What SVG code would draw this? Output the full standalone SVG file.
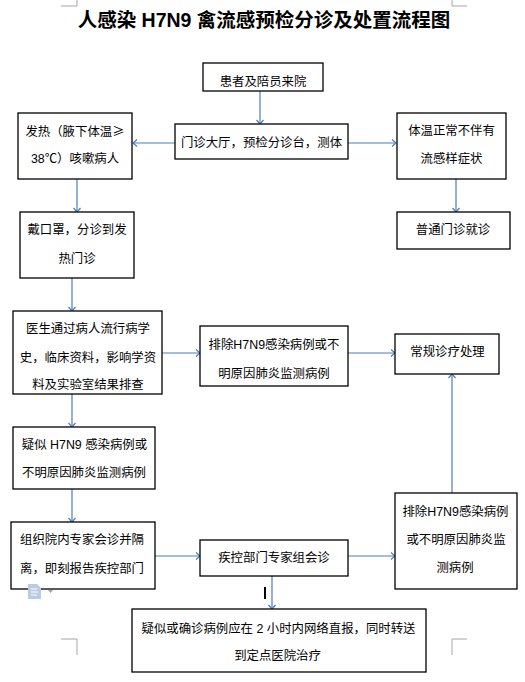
<svg xmlns="http://www.w3.org/2000/svg" width="525" height="682" viewBox="0 0 525 682">
<style>
.box{fill:#fff;stroke:#000;stroke-width:1.3}
.t{font-family:"Liberation Sans","Noto Sans CJK SC",sans-serif;font-size:12.4px;fill:#000;text-anchor:middle}
.cjk{font-family:"Noto Sans CJK SC",sans-serif}
.title{font-family:"Liberation Sans","Noto Sans CJK SC",sans-serif;font-size:19.5px;font-weight:bold;fill:#000;text-anchor:middle}
.c{fill:none;stroke:#4a7ebb;stroke-width:1.2;marker-end:url(#ah)}
.mark{fill:none;stroke:#a6a6a6;stroke-width:1}
</style>
<defs>
<marker id="ah" markerUnits="userSpaceOnUse" markerWidth="10" markerHeight="10" viewBox="0 0 10 10" refX="8" refY="5" orient="auto">
<path d="M4,1.5 L8,5 L4,8.5" fill="none" stroke="#4a7ebb" stroke-width="1.2"/>
</marker>
</defs>
<rect width="525" height="682" fill="#fff"/>
<g id="page-marks">
<path class="mark" d="M77,0 V6 H61 M452,0 V6 H467 M61,639 H77 V655 M467,639 H452 V655"/>
</g>
<text class="title" x="264" y="27">人感染 H7N9 禽流感预检分诊及处置流程图</text>
<g id="connectors">
<path class="c" d="M260,91 V124"/>
<path class="c" d="M175,143 H133"/>
<path class="c" d="M348,143 H396"/>
<path class="c" d="M77,179 V212"/>
<path class="c" d="M456,179 V212"/>
<path class="c" d="M72,278 V311"/>
<path class="c" d="M162,353 H200"/>
<path class="c" d="M348,353 H395"/>
<path class="c" d="M452,493 V374"/>
<path class="c" d="M72,394 V427"/>
<path class="c" d="M72,489 V522"/>
<path class="c" d="M155,556 H200"/>
<path class="c" d="M348,556 H395"/>
<path class="c" d="M272,576 V609"/>
</g>
<g id="n1"><rect class="box" x="203" y="63" width="120" height="28"/><text class="t" x="263" y="85.5">患者及陪员来院</text></g>
<g id="n2"><rect class="box" x="175" y="124" width="173" height="35"/><text class="t" x="261.5" y="147">门诊大厅，预检分诊台，测体</text></g>
<g id="n3"><rect class="box" x="18" y="113" width="114" height="66"/><text class="t" x="75" y="135.5">发热（腋下体温<tspan class="cjk">≥</tspan></text><text class="t" x="75" y="162.5">38℃）咳嗽病人</text></g>
<g id="n4"><rect class="box" x="397" y="113" width="109" height="66"/><text class="t" x="451.5" y="134.5">体温正常不伴有</text><text class="t" x="451.5" y="162.5">流感样症状</text></g>
<g id="n5"><rect class="box" x="20" y="212" width="114" height="66"/><text class="t" x="77" y="233.5">戴口罩，分诊到发</text><text class="t" x="77" y="262.5">热门诊</text></g>
<g id="n6"><rect class="box" x="397" y="212" width="113" height="37"/><text class="t" x="453" y="233.5">普通门诊就诊</text></g>
<g id="n7"><rect class="box" x="13" y="311" width="149" height="83"/><text class="t" x="88" y="332.5">医生通过病人流行病学</text><text class="t" x="88" y="361.5">史，临床资料，影响学资</text><text class="t" x="88" y="388.5">料及实验室结果排查</text></g>
<g id="n8"><rect class="box" x="200" y="326" width="148" height="60"/><text class="t" x="274" y="348.5">排除H7N9感染病例或不</text><text class="t" x="274" y="377.5">明原因肺炎监测病例</text></g>
<g id="n9"><rect class="box" x="395" y="334" width="104" height="40"/><text class="t" x="447.5" y="355.5">常规诊疗处理</text></g>
<g id="n10"><rect class="box" x="13" y="427" width="142" height="62"/><text class="t" x="84.5" y="448.5">疑似 H7N9 感染病例或</text><text class="t" x="84" y="476.5">不明原因肺炎监测病例</text></g>
<g id="n11"><rect class="box" x="11" y="522" width="144" height="67"/><text class="t" x="82" y="543.5">组织院内专家会诊并隔</text><text class="t" x="82" y="572.5">离，即刻报告疾控部门</text></g>
<g id="n12"><rect class="box" x="200" y="540" width="148" height="36"/><text class="t" x="274" y="561.5">疾控部门专家组会诊</text></g>
<g id="n13"><rect class="box" x="395" y="493" width="122" height="96"/><text class="t" x="455.5" y="515.5">排除H7N9感染病例</text><text class="t" x="456" y="543.5">或不明原因肺炎监</text><text class="t" x="455" y="571.5">测病例</text></g>
<g id="n14"><rect class="box" x="132" y="609" width="294" height="63"/><text class="t" x="278.5" y="632.5">疑似或确诊病例应在 2 小时内网络直报，同时转送</text><text class="t" x="277.5" y="659.5">到定点医院治疗</text></g>
<g id="ui-marks">
<path d="M28,584 H37 L41,588 V599 H28 Z" fill="#b8cce4"/>
<path d="M31,589 H37 M31,592 H38 M31,595 H37" stroke="#fff" stroke-width="1"/>
<path d="M48,590 H53 L50.5,593 Z" fill="#a6a6a6"/>
<rect x="264" y="587" width="2" height="12" fill="#000"/>
</g>
</svg>
